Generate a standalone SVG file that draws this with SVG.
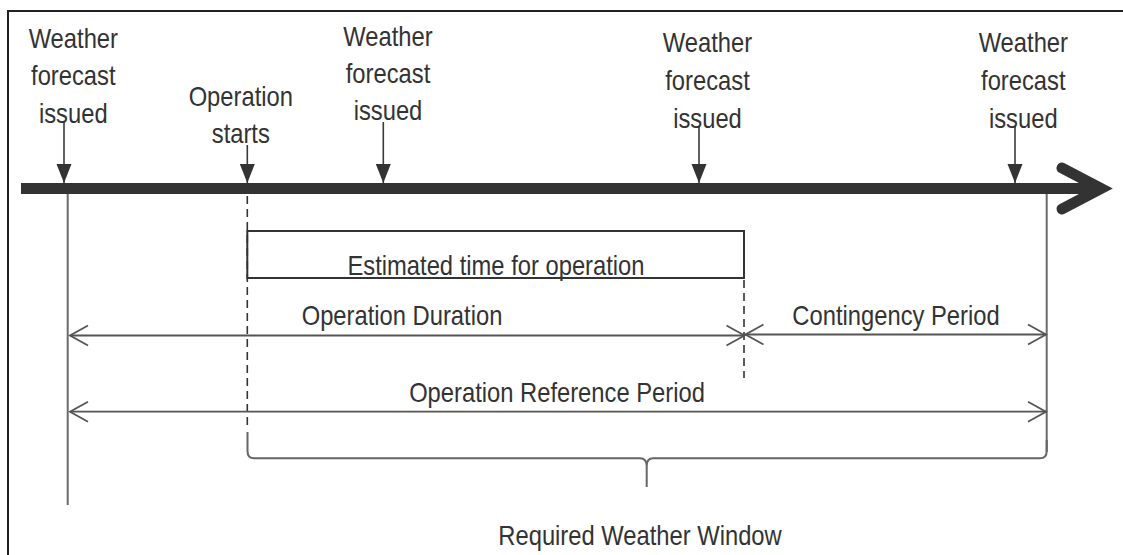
<svg xmlns="http://www.w3.org/2000/svg" width="1123" height="555" viewBox="0 0 1123 555">
  <style>
    .t { font-family: "Liberation Sans", Arial, sans-serif; font-size: 27px; fill: #333; text-anchor: middle; }
    .tick { stroke: #3a3a3a; stroke-width: 1.6; fill: none; }
    .vline { stroke: #6a6a6a; stroke-width: 2; fill: none; }
    .dim { stroke: #555; stroke-width: 1.8; fill: none; }
    .dash { stroke: #333; stroke-width: 1.6; stroke-dasharray: 8 5; fill: none; }
    .box { stroke: #333; stroke-width: 2; fill: none; }
    .brace { stroke: #666; stroke-width: 2; fill: none; }
  </style>
  <defs>
    <marker id="tri" markerUnits="userSpaceOnUse" viewBox="-20 -9 21 18" refX="0" refY="0" markerWidth="21" markerHeight="18" orient="auto">
      <path d="M-19,-7.5 L0,0 L-19,7.5 Z" fill="#333"/>
    </marker>
    <marker id="open" markerUnits="userSpaceOnUse" viewBox="-21 -12 23 24" refX="0" refY="0" markerWidth="23" markerHeight="24" orient="auto-start-reverse">
      <path d="M-18,-10 L0,0 L-18,10" fill="none" stroke="#555" stroke-width="1.8"/>
    </marker>
  </defs>
  <rect width="1123" height="555" fill="#fff"/>
  <g id="frame">
    <rect x="8" y="11" width="1140" height="570" fill="none" stroke="#222" stroke-width="2"/>
  </g>
  <g id="timeline">
    <line x1="21" y1="188.5" x2="1100" y2="188.5" stroke="#333" stroke-width="11"/>
    <polyline points="1062,168 1101,188.5 1062,209" fill="none" stroke="#333" stroke-width="11" stroke-linecap="round" stroke-linejoin="miter"/>
  </g>
  <g id="connectors">
    <line class="tick" x1="64" y1="122" x2="64" y2="183" marker-end="url(#tri)"/>
    <line class="tick" x1="247.3" y1="145" x2="247.3" y2="183" marker-end="url(#tri)"/>
    <line class="tick" x1="383.3" y1="122" x2="383.3" y2="183" marker-end="url(#tri)"/>
    <line class="tick" x1="699" y1="126" x2="699" y2="183" marker-end="url(#tri)"/>
    <line class="tick" x1="1015" y1="126" x2="1015" y2="183" marker-end="url(#tri)"/>
    <line class="vline" x1="67.7" y1="194" x2="67.7" y2="505"/>
    <line class="vline" x1="1046.7" y1="194" x2="1046.7" y2="452"/>
    <line class="dash" x1="247.3" y1="196" x2="247.3" y2="428"/>
    <line class="dash" x1="744" y1="280" x2="744" y2="378"/>
    <line class="dim" x1="70" y1="335.5" x2="744.5" y2="335.5" marker-start="url(#open)" marker-end="url(#open)"/>
    <line class="dim" x1="745.5" y1="334.5" x2="1046" y2="334.5" marker-start="url(#open)" marker-end="url(#open)"/>
    <line class="dim" x1="70" y1="411.7" x2="1046" y2="411.7" marker-start="url(#open)" marker-end="url(#open)"/>
    <path class="brace" d="M247.5,432 V451 Q247.5,458.3 254,458.3 H640 Q646.7,458.3 646.7,466 V487 M646.7,466 Q646.7,458.3 653,458.3 H1040 Q1046.7,458.3 1046.7,451 V440"/>
  </g>
  <g id="node-forecast-1">
    <text class="t" transform="translate(73.3,48) scale(0.88,1)"><tspan x="0" y="0">Weather</tspan><tspan x="0" y="37.5">forecast</tspan><tspan x="0" y="75">issued</tspan></text>
  </g>
  <g id="node-operation-starts">
    <text class="t" transform="translate(240.8,105.5) scale(0.88,1)"><tspan x="0" y="0">Operation</tspan><tspan x="0" y="38">starts</tspan></text>
  </g>
  <g id="node-forecast-2">
    <text class="t" transform="translate(388,46) scale(0.88,1)"><tspan x="0" y="0">Weather</tspan><tspan x="0" y="37">forecast</tspan><tspan x="0" y="74">issued</tspan></text>
  </g>
  <g id="node-forecast-3">
    <text class="t" transform="translate(707.5,52) scale(0.88,1)"><tspan x="0" y="0">Weather</tspan><tspan x="0" y="38">forecast</tspan><tspan x="0" y="76">issued</tspan></text>
  </g>
  <g id="node-forecast-4">
    <text class="t" transform="translate(1023.3,52) scale(0.88,1)"><tspan x="0" y="0">Weather</tspan><tspan x="0" y="38">forecast</tspan><tspan x="0" y="76">issued</tspan></text>
  </g>
  <g id="node-estimated">
    <rect class="box" x="247.3" y="231" width="496.7" height="47"/>
    <text class="t" transform="translate(496,275) scale(0.88,1)">Estimated time for operation</text>
  </g>
  <g id="node-operation-duration">
    <text class="t" transform="translate(402,325) scale(0.88,1)">Operation Duration</text>
  </g>
  <g id="node-contingency">
    <text class="t" transform="translate(896,325) scale(0.88,1)">Contingency Period</text>
  </g>
  <g id="node-reference">
    <text class="t" transform="translate(557,401.5) scale(0.88,1)">Operation Reference Period</text>
  </g>
  <g id="node-window">
    <text class="t" transform="translate(640,545) scale(0.88,1)">Required Weather Window</text>
  </g>
</svg>
